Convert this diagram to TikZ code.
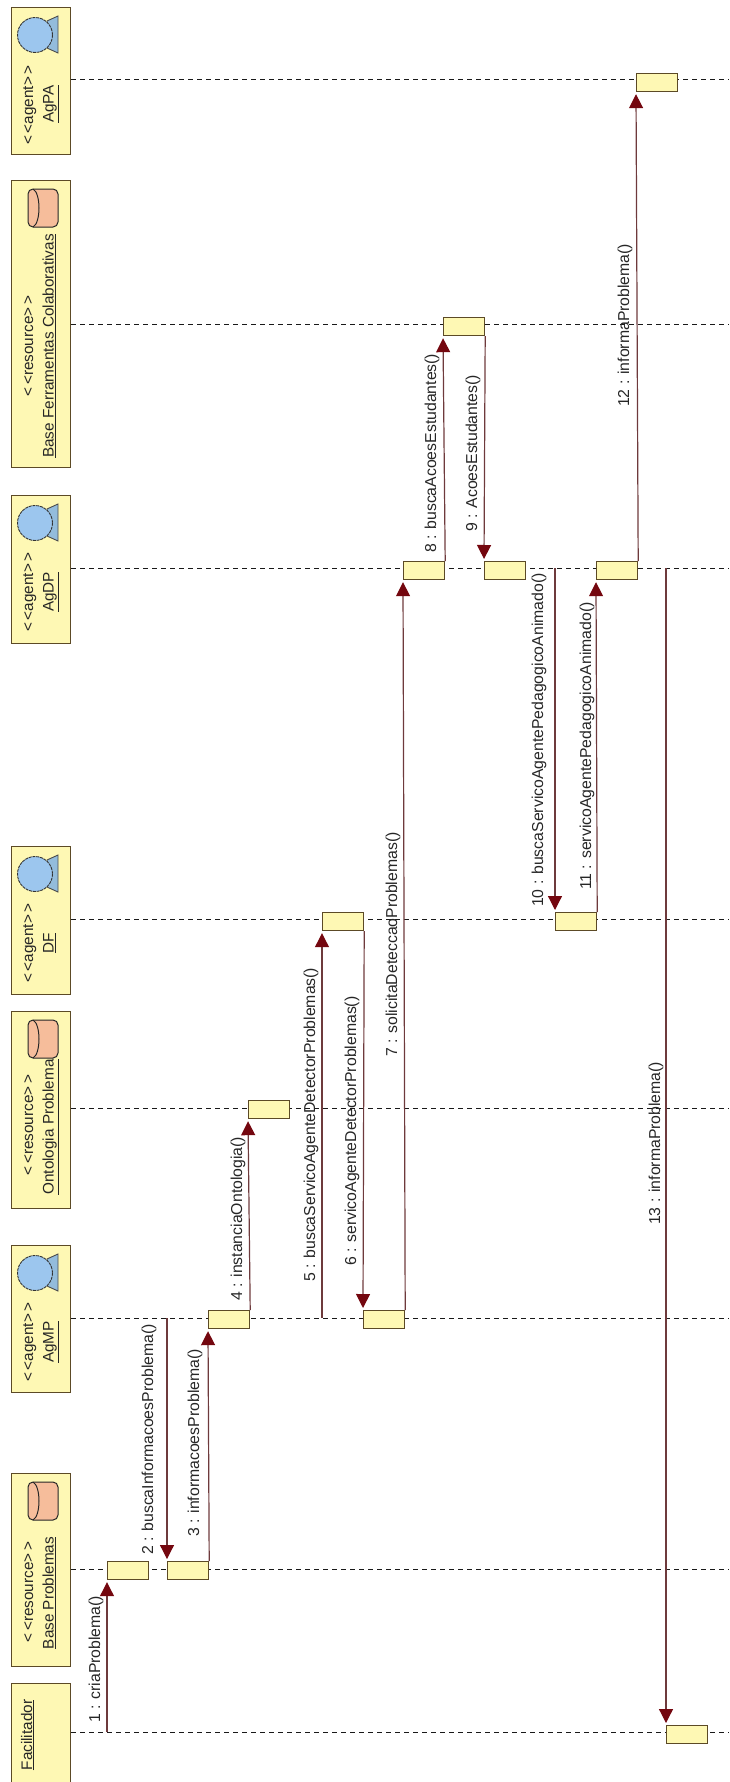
\documentclass[tikz,border=0pt]{standalone}
\usepackage{fontspec}
\setmainfont{Liberation Sans}
\usetikzlibrary{arrows.meta}
\definecolor{boxfill}{HTML}{FEF8B4}
\definecolor{boxedge}{HTML}{5C4A26}
\definecolor{msgline}{HTML}{6E3A3C}
\definecolor{tipred}{HTML}{74070F}
\definecolor{agentblue}{HTML}{9CC6EE}
\definecolor{agentback}{HTML}{93BCDC}
\definecolor{dbfill}{HTML}{F6BD9B}
\newcommand{\lbl}{\fontsize{15.8}{16}\selectfont}
\newcommand{\hdl}{\fontsize{15.3}{16}\selectfont}
\tikzset{
  x=1pt,y=-1pt,
  headbox/.style={draw=boxedge,fill=boxfill,line width=1.2pt,rectangle,inner sep=0pt,minimum width=59pt,anchor=north west},
  actbox/.style={draw=boxedge,fill=boxfill,line width=1.2pt,rectangle,inner sep=0pt,minimum width=41pt,minimum height=18pt,anchor=north west},
  life/.style={draw=black!90,line width=1pt,dash pattern=on 5pt off 4pt},
  msg/.style={draw=msgline,line width=1.2pt,shorten >=2pt,-{Triangle[length=14pt,width=14pt,color=tipred,fill=tipred]}},
  txt/.style={rotate=90,anchor=base,inner sep=0pt,font=\hdl,text=black!85},
  mlabel/.style={rotate=90,anchor=base west,inner sep=0pt,font=\lbl,text=black!85},
  agbody/.style={draw=black!80,fill=agentblue,line width=.9pt,dash pattern=on 3pt off .8pt},
  agback/.style={draw=black!70,fill=agentback,line width=.9pt},
  dbbody/.style={draw=black!85,fill=dbfill,line width=1pt,rounded corners=5pt},
  dbcap/.style={draw=black!85,line width=1pt},
}
\newcommand{\agenticon}[1]{%
  \path[agback] (47,#1+14) -- (58,#1+9) -- (58,#1+46) -- (47,#1+41) -- cycle;
  \path[agbody] (35,#1+28) circle (17.5);
}
\newcommand{\dbicon}[1]{%
  \path[dbbody] (28,#1+9) rectangle (58,#1+47);
  \draw[dbcap] (33,#1+9) .. controls (41,#1+13) and (41,#1+43) .. (33,#1+47);
}
\newcommand{\stag}[1]{<\kern2.5pt<#1>\kern2.5pt>}
\begin{document}
\begin{tikzpicture}
\useasboundingbox (0,0) rectangle (729,1782);
\clip (0,0) rectangle (729,1782);
\node[headbox,minimum height=147pt] (agpa) at (11,7) {};
\node[headbox,minimum height=287pt] (ferr) at (11,180) {};
\node[headbox,minimum height=148pt] (agp) at (11,495) {};
\node[headbox,minimum height=148pt] (df) at (11,846) {};
\node[headbox,minimum height=197pt] (onto) at (11,1011) {};
\node[headbox,minimum height=147pt] (agmp) at (11,1245) {};
\node[headbox,minimum height=193pt] (basep) at (11,1473) {};
\node[headbox,minimum height=102pt] (fac) at (11,1683) {};
\coordinate (eagpa) at (729,80);
\coordinate (eferr) at (729,324);
\coordinate (eagp) at (729,568);
\coordinate (edf) at (729,919);
\coordinate (eonto) at (729,1108);
\coordinate (eagmp) at (729,1318);
\coordinate (ebasep) at (729,1569);
\coordinate (efac) at (729,1732);
\draw[life] (agpa.east |- eagpa) -- (eagpa);
\draw[life] (ferr.east |- eferr) -- (eferr);
\draw[life] (agp.east |- eagp) -- (eagp);
\draw[life] (df.east |- edf) -- (edf);
\draw[life] (onto.east |- eonto) -- (eonto);
\draw[life] (agmp.east |- eagmp) -- (eagmp);
\draw[life] (basep.east |- ebasep) -- (ebasep);
\draw[life] (fac.east |- efac) -- (efac);
% icons
\agenticon{7}\agenticon{495}\agenticon{846}\agenticon{1245}
\dbicon{180}\dbicon{1011}\dbicon{1473}
% head texts
\node[txt] (t1a) at (33,105) {\stag{agent}};
\node[txt] (t1b) at (53.5,104) {\underline{AgPA}};
\node[txt] (t2a) at (33,346) {\stag{resource}};
\node[txt] (t2b) at (53.5,346) {\underline{Base Ferramentas Colaborativas}};
\node[txt] (t3a) at (33,592) {\stag{agent}};
\node[txt] (t3b) at (53.5,592) {\underline{AgDP}};
\node[txt] (t4a) at (33,943) {\stag{agent}};
\node[txt] (t4b) at (53.5,943) {\underline{DF}};
\node[txt] (t5a) at (33,1125) {\stag{resource}};
\node[txt] (t5b) at (53.5,1127) {\underline{Ontologia Problema}};
\node[txt] (t6a) at (33,1342) {\stag{agent}};
\node[txt] (t6b) at (53.5,1342) {\underline{AgMP}};
\node[txt] (t7a) at (33,1592) {\stag{resource}};
\node[txt] (t7b) at (53.5,1593) {\underline{Base Problemas}};
\node[txt] (t8b) at (32,1735) {\underline{Facilitador}};
% activations
\node[actbox] (a1) at (107,1561) {};
\node[actbox] (a2) at (167,1561) {};
\node[actbox] (a3) at (208,1310) {};
\node[actbox] (a4) at (248,1100) {};
\node[actbox] (a5) at (322,912) {};
\node[actbox] (a6) at (363,1310) {};
\node[actbox] (a7) at (403,561) {};
\node[actbox] (a8) at (443,317) {};
\node[actbox] (a9) at (484,561) {};
\node[actbox] (a10) at (555,912) {};
\node[actbox] (a11) at (596,561) {};
\node[actbox] (a12) at (636,73) {};
\node[actbox] (a13) at (666,1725) {};
% free ends on lifelines
\coordinate (s1) at (107,1732);
\coordinate (s2) at (167,1318);
\coordinate (s5) at (322,1318);
\coordinate (s10) at (555,568);
\coordinate (s13) at (666,568);
% messages
\draw[msg] (s1) -- (a1.south west);
\draw[msg] (s2) -- (a2.north west);
\draw[msg] (a2.north east) -- (a3.south west);
\draw[msg] (a3.north east) -- (a4.south west);
\draw[msg] (s5) -- (a5.south west);
\draw[msg] (a5.south east) -- (a6.north west);
\draw[msg] (a6.north east) -- (a7.south west);
\draw[msg] (a7.north east) -- (a8.south west);
\draw[msg] (a8.south east) -- (a9.north west);
\draw[msg] (s10) -- (a10.north west);
\draw[msg] (a10.north east) -- (a11.south west);
\draw[msg] (a11.north east) -- (a12.south west);
\draw[msg] (s13) -- (a13.north west);
% labels
\node[mlabel] (m1) at (100,1723) {1 : criaProblema()};
\node[mlabel] (m2) at (153,1555) {2 : buscaInformacoesProblema()};
\node[mlabel] (m3) at (199,1537) {3 : informacoesProblema()};
\node[mlabel] (m4) at (242,1301) {4 : instanciaOntologia()};
\node[mlabel] (m5) at (315,1282) {5 : buscaServicoAgenteDetectorProblemas()};
\node[mlabel] (m6) at (356,1266) {6 : servicoAgenteDetectorProblemas()};
\node[mlabel] (m7) at (397,1057) {7 : solicitaDeteccaoProblemas()};
\node[mlabel] (m8) at (436,553) {8 : buscaAcoesEstudantes()};
\node[mlabel] (m9) at (477,532) {9 : AcoesEstudantes()};
\node[mlabel] (m10) at (543,907) {10 : buscaServicoAgentePedagogicoAnimado()};
\node[mlabel] (m11) at (591,890) {11 : servicoAgentePedagogicoAnimado()};
\node[mlabel] (m12) at (629,407) {12 : informaProblema()};
\node[mlabel] (m13) at (660,1225) {13 : informaProblema()};
\end{tikzpicture}
\end{document}
